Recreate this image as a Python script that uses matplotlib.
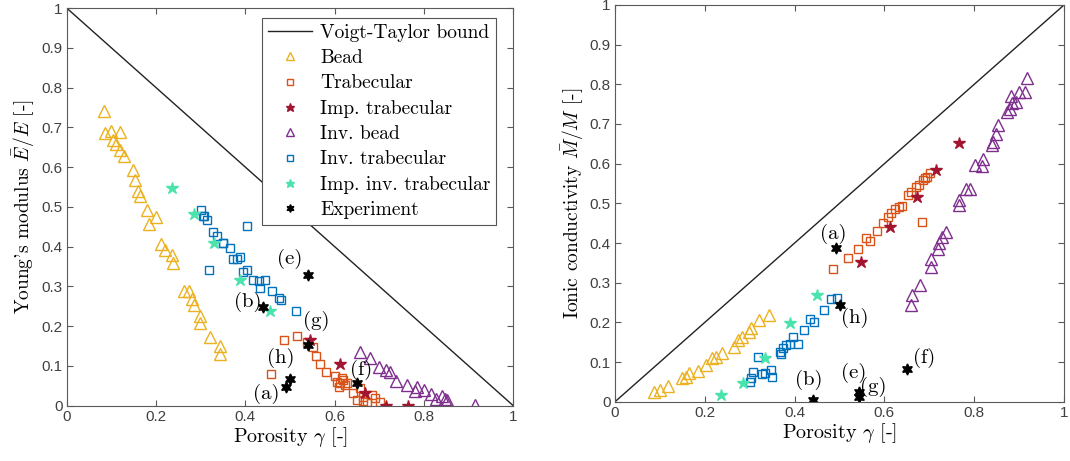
import numpy as np
import matplotlib
matplotlib.use("Agg")
import matplotlib.pyplot as plt

plt.rcParams.update({"mathtext.fontset": "cm", "axes.unicode_minus": False})
SERIF = "cmr10"
AMAR = "#EDB120"; LARJ = "#D95319"; VERM = "#A2142F"; ROXO = "#7E2F8E"
AZUL = "#0072BD"; CIANO = "#4BE3AC"; EIXO = "#5a5a5a"

# ---------------- Young's modulus (left) ----------------
bead_x = [0.084, 0.086, 0.099, 0.119, 0.104, 0.110, 0.119, 0.128, 0.149, 0.154, 0.159, 0.164,
          0.181, 0.199, 0.184, 0.211, 0.220, 0.236, 0.237, 0.263, 0.275, 0.280, 0.284, 0.298,
          0.298, 0.321, 0.343, 0.343]
bead_y = [0.740, 0.685, 0.690, 0.687, 0.668, 0.658, 0.643, 0.629, 0.593, 0.568, 0.541, 0.528,
          0.491, 0.474, 0.457, 0.407, 0.392, 0.380, 0.359, 0.288, 0.288, 0.269, 0.253, 0.225,
          0.207, 0.172, 0.150, 0.131]
trab_x = [0.457, 0.487, 0.516, 0.539, 0.551, 0.558, 0.567, 0.581, 0.601, 0.605, 0.612, 0.619,
          0.627, 0.610, 0.616, 0.623, 0.642, 0.649, 0.657, 0.664, 0.664, 0.672, 0.683, 0.690, 0.702]
trab_y = [0.080, 0.165, 0.175, 0.161, 0.148, 0.125, 0.105, 0.085, 0.074, 0.060, 0.056, 0.064,
          0.058, 0.048, 0.069, 0.052, 0.031, 0.014, 0.044, 0.023, 0.013, 0.008, 0.027, 0.019, 0.010]
itrab_x = [0.545, 0.613, 0.668, 0.714, 0.765]
itrab_y = [0.165, 0.106, 0.031, 0.000, 0.000]
ibead_x = [0.657, 0.679, 0.700, 0.716, 0.724, 0.737, 0.761, 0.780, 0.784, 0.799, 0.815, 0.828,
           0.840, 0.847, 0.851, 0.914]
ibead_y = [0.135, 0.119, 0.098, 0.090, 0.085, 0.062, 0.052, 0.038, 0.046, 0.039, 0.029, 0.018,
           0.024, 0.018, 0.014, 0.002]
invtrab_x = [0.300, 0.305, 0.308, 0.315, 0.403, 0.328, 0.336, 0.349, 0.351, 0.366, 0.373, 0.381,
             0.388, 0.319, 0.394, 0.404, 0.418, 0.431, 0.444, 0.433, 0.459, 0.476, 0.481, 0.513]
invtrab_y = [0.491, 0.476, 0.476, 0.468, 0.451, 0.438, 0.426, 0.409, 0.409, 0.397, 0.370, 0.370,
             0.375, 0.340, 0.336, 0.342, 0.317, 0.314, 0.315, 0.297, 0.288, 0.272, 0.265, 0.238]
iinv_x = [0.236, 0.284, 0.330, 0.387, 0.456]
iinv_y = [0.548, 0.483, 0.409, 0.317, 0.238]
exp_lab = ["(a)", "(b)", "(e)", "(f)", "(g)", "(h)"]
expE_x = [0.491, 0.440, 0.540, 0.649, 0.540, 0.500]
expE_y = [0.048, 0.247, 0.328, 0.056, 0.152, 0.066]
labE_x = [0.446, 0.406, 0.500, 0.660, 0.558, 0.480]
labE_y = [0.029, 0.260, 0.370, 0.090, 0.212, 0.120]

# ---------------- Ionic conductivity (right) ----------------
beadM_x = [0.086, 0.101, 0.117, 0.150, 0.159, 0.165, 0.184, 0.202, 0.217, 0.224, 0.239, 0.265,
           0.274, 0.282, 0.298, 0.303, 0.321, 0.344]
beadM_y = [0.025, 0.029, 0.040, 0.059, 0.063, 0.073, 0.078, 0.092, 0.109, 0.113, 0.123, 0.139,
           0.155, 0.162, 0.176, 0.185, 0.206, 0.218]
trabM_x = [0.485, 0.518, 0.542, 0.558, 0.568, 0.584, 0.597, 0.607, 0.615, 0.623, 0.632, 0.639,
           0.653, 0.660, 0.670, 0.678, 0.683, 0.687, 0.690, 0.694, 0.701]
trabM_y = [0.335, 0.361, 0.384, 0.413, 0.406, 0.430, 0.450, 0.466, 0.476, 0.485, 0.490, 0.493,
           0.521, 0.529, 0.540, 0.546, 0.454, 0.560, 0.563, 0.567, 0.577]
itrabM_x = [0.547, 0.613, 0.672, 0.716, 0.767]
itrabM_y = [0.353, 0.440, 0.517, 0.584, 0.651]
ibeadM_x = [0.659, 0.661, 0.680, 0.704, 0.704, 0.719, 0.722, 0.728, 0.737, 0.766, 0.767, 0.781,
            0.790, 0.802, 0.817, 0.819, 0.839, 0.841, 0.848, 0.854, 0.874, 0.880, 0.885, 0.883,
            0.892, 0.899, 0.914, 0.918]
ibeadM_y = [0.244, 0.269, 0.294, 0.339, 0.359, 0.384, 0.399, 0.414, 0.428, 0.496, 0.508, 0.535,
            0.535, 0.597, 0.594, 0.613, 0.647, 0.655, 0.676, 0.697, 0.731, 0.739, 0.752, 0.770,
            0.756, 0.781, 0.781, 0.815]
invtrabM_x = [0.301, 0.303, 0.308, 0.319, 0.327, 0.334, 0.347, 0.349, 0.367, 0.369, 0.373, 0.380,
              0.389, 0.397, 0.408, 0.421, 0.435, 0.444, 0.465, 0.480, 0.495]
invtrabM_y = [0.050, 0.059, 0.076, 0.113, 0.070, 0.073, 0.080, 0.063, 0.126, 0.120, 0.135, 0.143,
              0.145, 0.162, 0.145, 0.181, 0.208, 0.202, 0.232, 0.258, 0.262]
iinvM_x = [0.237, 0.286, 0.333, 0.389, 0.450]
iinvM_y = [0.017, 0.048, 0.109, 0.199, 0.268]
expM_x = [0.492, 0.441, 0.544, 0.650, 0.544, 0.502]
expM_y = [0.387, 0.004, 0.012, 0.082, 0.024, 0.243]
labM_x = [0.487, 0.432, 0.531, 0.689, 0.575, 0.533]
labM_y = [0.423, 0.055, 0.072, 0.110, 0.037, 0.211]

HEX = (6, 1, 0)  # estrela de 6 pontas (hexagrama do MATLAB)


def estilo(ax):
    ax.set_xlim(0, 1); ax.set_ylim(0, 1)
    ax.set_xticks(np.arange(0, 1.01, 0.2))
    ax.set_xticklabels(["0", "0.2", "0.4", "0.6", "0.8", "1"])
    ax.set_yticks(np.arange(0, 1.01, 0.1))
    ax.set_yticklabels(["0"] + [f"{v:.1f}" for v in np.arange(0.1, 0.95, 0.1)] + ["1"])
    ax.tick_params(direction="in", top=True, right=True, length=4, width=0.8, color=EIXO,
                   labelcolor="#404040", labelsize=11, pad=3)
    for lb in ax.get_xticklabels() + ax.get_yticklabels():
        lb.set_family("Liberation Sans")
    for s in ax.spines.values():
        s.set_color(EIXO); s.set_linewidth(0.8)
    ax.set_xlabel(r"Porosity $\gamma$ [-]", family=SERIF, fontsize=14.5, labelpad=1)


def series(ax, d):
    for x, y, mk, cor, ms, lab, cheio in d:
        ax.plot(x, y, ls="none", marker=mk, ms=ms, mfc=cor if cheio else "none",
                mec=cor, mew=1.0, label=lab)


fig = plt.figure(figsize=(10.7, 4.61), dpi=100)
ax1 = fig.add_axes([0.0623, 0.12, 0.4174, 0.8626])
ax2 = fig.add_axes([0.5748, 0.1286, 0.4196, 0.8606])

ax1.plot([0, 1], [1, 0], color="#222222", lw=1.0, label="Voigt-Taylor bound")
series(ax1, [
    (bead_x, bead_y, "^", AMAR, 8, "Bead", False),
    (trab_x, trab_y, "s", LARJ, 6, "Trabecular", False),
    (itrab_x, itrab_y, "*", VERM, 9, "Imp. trabecular", True),
    (ibead_x, ibead_y, "^", ROXO, 8, "Inv. bead", False),
    (invtrab_x, invtrab_y, "s", AZUL, 6, "Inv. trabecular", False),
    (iinv_x, iinv_y, "*", CIANO, 9, "Imp. inv. trabecular", True),
    (expE_x, expE_y, HEX, "black", 8, "Experiment", True),
])
for t, x, y in zip(exp_lab, labE_x, labE_y):
    ax1.text(x, y, t, family=SERIF, fontsize=15, ha="center", va="center")
estilo(ax1)
ax1.set_ylabel(r"Young's modulus $\bar{E}/E$ [-]", family=SERIF, fontsize=14, labelpad=3)
leg = ax1.legend(loc="upper left", bbox_to_anchor=(0.437, 0.975), borderaxespad=0,
                 prop={"family": SERIF, "size": 14}, fancybox=False, framealpha=1,
                 edgecolor="#555555", handlelength=2.3, handletextpad=0.4,
                 labelspacing=0.38, borderpad=0.3, markerscale=0.7)
leg.get_frame().set_linewidth(0.8)

ax2.plot([0, 1], [0, 1], color="#222222", lw=1.0)
series(ax2, [
    (beadM_x, beadM_y, "^", AMAR, 8, None, False),
    (trabM_x, trabM_y, "s", LARJ, 6, None, False),
    (itrabM_x, itrabM_y, "*", VERM, 9, None, True),
    (ibeadM_x, ibeadM_y, "^", ROXO, 8, None, False),
    (invtrabM_x, invtrabM_y, "s", AZUL, 6, None, False),
    (iinvM_x, iinvM_y, "*", CIANO, 9, None, True),
    (expM_x, expM_y, HEX, "black", 8, None, True),
])
for t, x, y in zip(exp_lab, labM_x, labM_y):
    ax2.text(x, y, t, family=SERIF, fontsize=15, ha="center", va="center")
estilo(ax2)
ax2.set_ylabel(r"Ionic conductivity $\bar{M}/M$ [-]", family=SERIF, fontsize=14, labelpad=3)

fig.savefig("out.png", dpi=100)
